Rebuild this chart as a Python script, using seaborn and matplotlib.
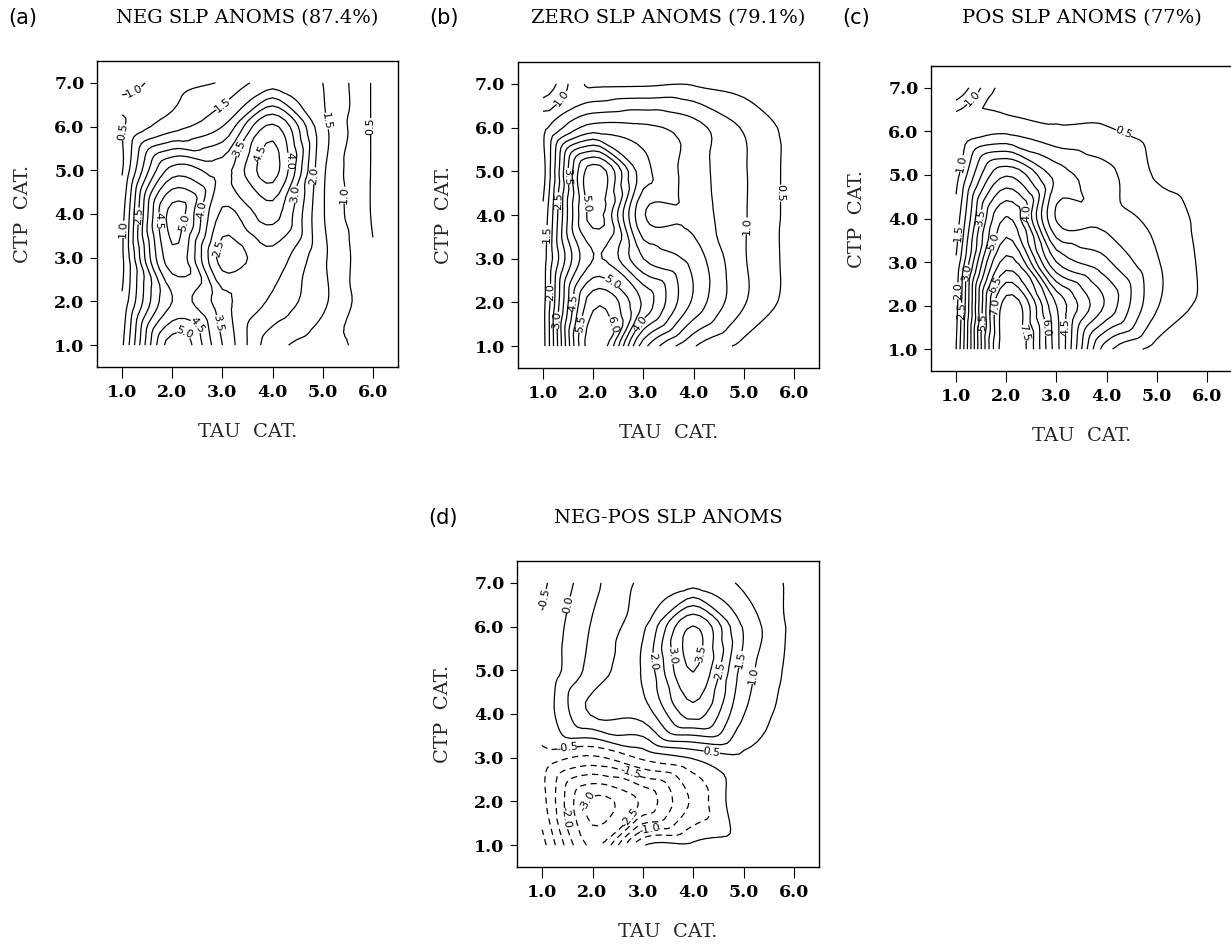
import numpy as np
import matplotlib
matplotlib.use("Agg")
import matplotlib.pyplot as plt
import matplotlib.tri as mtri
import seaborn as sns

# Category axes of the joint histograms
tau_cat = [1.0, 2.0, 3.0, 4.0, 5.0, 6.0]
ctp_cat = [1.0, 2.0, 3.0, 4.0, 5.0, 6.0, 7.0]

# Frequency fields (%): rows are CTP 1..7 (bottom to top), columns TAU 1..6
neg_slp = [
    [1.4, 5.3, 3.5, 1.7, 1.2, 0.9],
    [1.1, 4.0, 3.2, 2.4, 1.6, 0.6],
    [0.9, 4.85, 2.3, 2.8, 1.6, 0.55],
    [0.8, 5.2, 2.9, 3.7, 1.55, 0.45],
    [0.45, 3.7, 3.3, 4.7, 1.6, 0.45],
    [0.45, 1.3, 2.0, 4.1, 1.65, 0.45],
    [1.3, 0.85, 1.05, 1.75, 1.5, 0.45],
]
zero_slp = [
    [1.3, 6.4, 2.7, 1.05, 0.35, 0.2],
    [1.3, 5.85, 4.4, 2.4, 1.05, 0.3],
    [1.25, 4.5, 3.0, 2.3, 1.05, 0.3],
    [1.1, 5.2, 2.05, 1.8, 1.05, 0.3],
    [0.8, 5.3, 2.7, 1.75, 1.05, 0.3],
    [0.85, 2.2, 2.1, 1.7, 0.95, 0.3],
    [2.0, 0.4, 0.4, 0.45, 0.3, 0.2],
]
pos_slp = [
    [2.0, 7.9, 5.2, 1.2, 0.3, 0.2],
    [1.8, 7.75, 5.0, 2.9, 1.05, 0.35],
    [1.6, 6.2, 3.0, 2.1, 1.05, 0.35],
    [1.2, 5.05, 1.45, 1.3, 0.85, 0.3],
    [0.8, 3.45, 1.8, 1.15, 0.45, 0.2],
    [0.6, 0.9, 0.6, 0.55, 0.35, 0.2],
    [2.0, 0.3, 0.35, 0.35, 0.25, 0.2],
]
neg_minus_pos = [
    [-0.3, -2.6, -0.05, 0.1, 0.2, 0.15],
    [-0.8, -3.1, -2.4, -0.9, 0.35, 0.25],
    [-0.7, -1.1, -0.4, 0.05, 0.4, 0.3],
    [-0.4, 1.05, 1.2, 2.7, 1.02, 0.25],
    [-0.48, 0.7, 1.55, 3.52, 1.3, 0.3],
    [-0.45, 0.55, 1.4, 3.52, 1.45, 0.35],
    [-0.6, 0.35, 1.1, 1.3, 0.9, 0.4],
]

panel_tags = ["(a)", "(b)", "(c)", "(d)"]
panel_titles = [
    "NEG SLP ANOMS (87.4%)",
    "ZERO SLP ANOMS (79.1%)",
    "POS SLP ANOMS (77%)",
    "NEG-POS SLP ANOMS",
]

sns.set_style("ticks")
plt.rcParams.update({
    "font.family": ["DejaVu Serif"],
    "axes.edgecolor": "black",
    "axes.linewidth": 1.0,
    "text.color": "black",
    "xtick.color": "black",
    "ytick.color": "black",
    "xtick.direction": "out",
    "ytick.direction": "out",
    "xtick.major.size": 8,
    "ytick.major.size": 5,
    "xtick.major.width": 0.8,
    "ytick.major.width": 0.8,
    "xtick.major.pad": 4,
    "ytick.major.pad": 4,
    "contour.negative_linestyle": "dashed",
    "lines.dashed_pattern": (5.0, 3.5),
})

fig = plt.figure(figsize=(12.31, 9.51), dpi=100)
W, H = 1231.0, 951.0

# pixel boxes: left, top, right, bottom
boxes = [
    (97, 61, 398, 367),
    (518, 62, 819, 368),
    (931, 66, 1232, 371),
    (517, 561, 819, 867),
]
title_y = [18, 18, 18, 518]

fields = [neg_slp, zero_slp, pos_slp, neg_minus_pos]
level_ranges = [(0.5, 5.0), (0.5, 6.0), (0.5, 7.5), (-3.0, 3.5)]

X, Y = np.meshgrid(tau_cat, ctp_cat)
grid_tri = mtri.Triangulation(X.ravel(), Y.ravel())
refiner = mtri.UniformTriRefiner(grid_tri)

for tag, title, field, (lo, hi), (l, t, r, b), ty in zip(
        panel_tags, panel_titles, fields, level_ranges, boxes, title_y):
    ax = fig.add_axes([l / W, 1 - b / H, (r - l) / W, (b - t) / H])
    z = np.asarray(field, dtype=float).ravel()
    smooth = mtri.CubicTriInterpolator(grid_tri, z, kind="geom")
    fine_tri, fine_z = refiner.refine_field(z, triinterpolator=smooth, subdiv=3)
    levels = np.round(np.arange(lo, hi + 0.01, 0.5), 1) + 0.0
    cs = ax.tricontour(fine_tri, fine_z, levels=levels, colors="black",
                       linewidths=0.9)
    labels = ax.clabel(cs, fmt="%.1f", fontsize=8, inline=True,
                       inline_spacing=1)
    for lab in labels:
        lab.set_family("DejaVu Sans")

    ax.set_xlim(0.5, 6.5)
    ax.set_ylim(0.5, 7.5)
    ax.set_xticks(tau_cat)
    ax.set_xticklabels([f"{v:.1f}" for v in tau_cat], fontsize=12.5,
                       fontweight="bold")
    ax.set_yticks(ctp_cat)
    ax.set_yticklabels([f"{v:.1f}" for v in ctp_cat], fontsize=12.5,
                       fontweight="bold")
    ax.set_xlabel("TAU  CAT.", fontsize=14, labelpad=16)
    ax.set_ylabel("CTP  CAT.", fontsize=14, labelpad=16)

    cx = (l + r) / 2.0
    fig.text(cx / W, 1 - ty / H, title, ha="center", va="center", fontsize=14)
    fig.text((l - 89) / W, 1 - ty / H, tag, ha="left", va="center",
             fontsize=15, family="DejaVu Sans")

fig.savefig("out.png", dpi=100)
